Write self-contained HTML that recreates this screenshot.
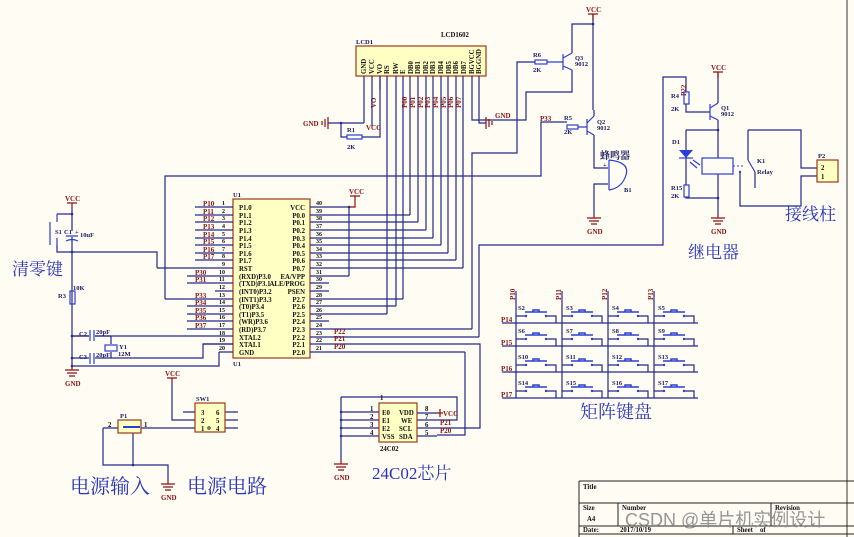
<!DOCTYPE html>
<html><head><meta charset="utf-8"><style>
html,body{margin:0;padding:0;background:#fffcf4;}
svg{display:block;font-family:"Liberation Serif","Noto Serif CJK SC",serif;}
.w{stroke:#23288a;stroke-width:1.2;fill:none}
.c{stroke:#2b3fd0;stroke-width:1.2;fill:none}
.r{fill:#8a1010;font-size:7px;font-weight:bold}
.b{fill:#1a1a60;font-size:6.5px;font-weight:bold}
.k{fill:#111;font-size:6.8px;font-weight:bold}
.big{fill:#2a36b8;font-family:"Liberation Serif","Noto Serif CJK SC",serif}
.g{stroke:#8a1010;stroke-width:1.2;fill:none}
</style></head><body>
<svg width="854" height="537" viewBox="0 0 854 537" xmlns="http://www.w3.org/2000/svg">
<rect width="854" height="537" fill="#fffcf4"/>
<line x1="847" y1="0" x2="847" y2="537" stroke="#333" stroke-width="1"/>

<rect x="233" y="199" width="77" height="159" fill="#ffffc4" stroke="#9a3a1a" stroke-width="1.2"/>
<text x="233" y="197" class="b">U1</text>
<text x="233" y="366" class="b">U1</text>
<g class="w">
<path d="M195 207H233M195 215H233M195 222H233M195 230H233M195 238H233M195 245H233M195 253H233M195 260H233
M157 268H233M187 276H233M187 283H233M215 291H233M165 299H233M187 306H233M187 314H233M187 321H233M187 329H233
M72 336H233M203 344H233M219 352H233"/>
<path d="M310 207H349M310 215H410M310 222H418M310 230H426M310 238H433M310 245H441M310 253H448M310 260H456M310 268H463
M310 276H349M310 283H329M310 291H329M310 299H403M310 306H396M310 314H387M310 321H329M310 329H472M310 337H479M310 344H477M310 352H465"/>
</g>
<g fill="#111" font-size="6" font-weight="bold">
<text x="222" y="205">1</text><text x="222" y="213">2</text><text x="222" y="220">3</text><text x="222" y="228">4</text><text x="222" y="236">5</text><text x="222" y="243">6</text><text x="222" y="251">7</text><text x="222" y="258">8</text><text x="222" y="266">9</text><text x="219" y="274">10</text><text x="219" y="281">11</text><text x="219" y="289">12</text><text x="219" y="297">13</text><text x="219" y="304">14</text><text x="219" y="312">15</text><text x="219" y="319">16</text><text x="219" y="327">17</text><text x="219" y="335">18</text><text x="219" y="342">19</text><text x="219" y="350">20</text>
<text x="316" y="205">40</text><text x="316" y="213">39</text><text x="316" y="220">38</text><text x="316" y="228">37</text><text x="316" y="236">36</text><text x="316" y="243">35</text><text x="316" y="251">34</text><text x="316" y="258">33</text><text x="316" y="266">32</text><text x="316" y="274">31</text><text x="316" y="281">30</text><text x="316" y="289">29</text><text x="316" y="297">28</text><text x="316" y="304">27</text><text x="316" y="312">26</text><text x="316" y="319">25</text><text x="316" y="327">24</text><text x="316" y="335">23</text><text x="316" y="342">22</text><text x="316" y="350">21</text>
</g>
<g class="k">
<text x="239" y="210">P1.0</text><text x="239" y="218">P1.1</text><text x="239" y="225">P1.2</text><text x="239" y="233">P1.3</text><text x="239" y="241">P1.4</text><text x="239" y="248">P1.5</text><text x="239" y="256">P1.6</text><text x="239" y="263">P1.7</text><text x="239" y="271">RST</text>
<text x="239" y="279">(RXD)P3.0</text><text x="239" y="286">(TXD)P3.1</text><text x="239" y="294">(INT0)P3.2</text><text x="239" y="302">(INT1)P3.3</text><text x="239" y="309">(T0)P3.4</text><text x="239" y="317">(T1)P3.5</text><text x="239" y="324">(WR)P3.6</text><text x="239" y="332">(RD)P3.7</text><text x="239" y="340">XTAL2</text><text x="239" y="347">XTAL1</text><text x="239" y="355">GND</text>
</g>
<g class="k" text-anchor="end">
<text x="305" y="210">VCC</text><text x="305" y="218">P0.0</text><text x="305" y="225">P0.1</text><text x="305" y="233">P0.2</text><text x="305" y="241">P0.3</text><text x="305" y="248">P0.4</text><text x="305" y="256">P0.5</text><text x="305" y="263">P0.6</text><text x="305" y="271">P0.7</text>
<text x="305" y="279">EA/VPP</text><text x="305" y="286">ALE/PROG</text><text x="305" y="294">PSEN</text><text x="305" y="302">P2.7</text><text x="305" y="309">P2.6</text><text x="305" y="317">P2.5</text><text x="305" y="324">P2.4</text><text x="305" y="332">P2.3</text><text x="305" y="340">P2.2</text><text x="305" y="347">P2.1</text><text x="305" y="355">P2.0</text>
</g>
<g class="r">
<text x="203" y="206">P10</text><text x="203" y="214">P11</text><text x="203" y="221">P12</text><text x="203" y="229">P13</text><text x="203" y="237">P14</text><text x="203" y="244">P15</text><text x="203" y="252">P16</text><text x="203" y="259">P17</text>
<text x="195" y="275">P30</text><text x="195" y="282">P31</text><text x="195" y="298">P33</text><text x="195" y="305">P34</text><text x="195" y="313">P35</text><text x="195" y="320">P36</text><text x="195" y="328">P37</text>
<text x="334" y="334">P22</text><text x="334" y="341">P21</text><text x="334" y="349">P20</text>
</g>
<path class="w" d="M349 207V276"/><circle cx="349" cy="207" r="1.3" fill="#23288a"/>
<path class="g" d="M349 207H355V196M350 196H360"/><text x="349" y="194" class="r" font-size="6.5">VCC</text>

<g class="w">
<path d="M387 90V314M396 90V306M403 90V299M410 90V215M418 90V222M426 90V230M433 90V238M441 90V245M448 90V253M456 90V260M463 90V268"/>
<path d="M472 90V120H526V92H572V70"/>
<path d="M472 329V153H517V62H535"/>
<path d="M479 337V245H663V77H686V92"/>
<path d="M477 344H480V428H437"/>
<path d="M465 352V435H437"/>
<path d="M165 299V176H541V122H567"/>
<path d="M479 90V123H486"/>
</g>

<rect x="356" y="46" width="130" height="30" fill="#ffffc4" stroke="#9a3a1a" stroke-width="1.2"/>
<text x="356" y="44" class="b">LCD1</text>
<text x="441" y="37" class="k">LCD1602</text>
<g class="k" font-size="5.5">
<text transform="translate(366,74) rotate(-90)">GND</text><text transform="translate(374,74) rotate(-90)">VCC</text><text transform="translate(382,74) rotate(-90)">VO</text><text transform="translate(389,74) rotate(-90)">RS</text><text transform="translate(398,74) rotate(-90)">RW</text><text transform="translate(405,74) rotate(-90)">E</text><text transform="translate(413,74) rotate(-90)">DB0</text><text transform="translate(420,74) rotate(-90)">DB1</text><text transform="translate(428,74) rotate(-90)">DB2</text><text transform="translate(435,74) rotate(-90)">DB3</text><text transform="translate(443,74) rotate(-90)">DB4</text><text transform="translate(451,74) rotate(-90)">DB5</text><text transform="translate(458,74) rotate(-90)">DB6</text><text transform="translate(466,74) rotate(-90)">DB7</text><text transform="translate(474,74) rotate(-90)">BGVCC</text><text transform="translate(481,74) rotate(-90)">BGGND</text>
</g>
<g class="w"><path d="M364 76V123M372 76V90M380 76V90M387 76V90M396 76V90M403 76V90M410 76V90M418 76V90M426 76V90M433 76V90M441 76V90M448 76V90M456 76V90M463 76V90M472 76V90M479 76V90"/></g>
<g class="r" font-size="6">
<text transform="translate(407,108) rotate(-90)">P00</text><text transform="translate(415,108) rotate(-90)">P01</text><text transform="translate(423,108) rotate(-90)">P02</text><text transform="translate(430,108) rotate(-90)">P03</text><text transform="translate(438,108) rotate(-90)">P04</text><text transform="translate(446,108) rotate(-90)">P05</text><text transform="translate(453,108) rotate(-90)">P06</text><text transform="translate(461,108) rotate(-90)">P07</text>
<text transform="translate(376,108) rotate(-90)">VO</text>
</g>
<g class="w"><path d="M328 123H364M341 123V137H347M362 137H380V76M372 90V126"/></g>
<circle cx="341" cy="123" r="1.3" fill="#23288a"/>
<rect x="347" y="135" width="15" height="4" fill="#fffcf4" class="c"/>
<text x="347" y="132" class="b">R1</text><text x="347" y="149" class="b">2K</text>
<path class="g" d="M328 117V129M325 119V127M322 121V125"/>
<text x="303" y="126" class="r" font-size="6.5">GND</text>
<text x="366" y="130" class="r" font-size="6.5">VCC</text>
<path class="g" d="M486 117V129M489 119V127M492 121V125"/>
<text x="495" y="118" class="r" font-size="6.5">GND</text>

<g class="w"><path d="M572 53V24H593V110M593 14V24"/></g>
<path class="g" d="M593 14V20M588 14H598"/><text x="586" y="12" class="r" font-size="6.5">VCC</text>
<circle cx="593" cy="24" r="1.3" fill="#23288a"/>
<rect x="535" y="60" width="12" height="4" fill="#fffcf4" class="c"/>
<text x="533" y="57" class="b">R6</text><text x="533" y="72" class="b">2K</text>
<g class="c"><path d="M547 62H563M563 54V70M563 58L572 53M563 66L572 70"/></g>
<text x="575" y="60" class="b">Q3</text><text x="575" y="66" class="b" font-size="5">9012</text>
<rect x="567" y="125" width="11" height="4" fill="#fffcf4" class="c"/>
<text x="564" y="120" class="b">R5</text><text x="564" y="134" class="b">2K</text>
<text x="540" y="121" class="r">P33</text>
<g class="c"><path d="M578 127H587M587 119V135M587 123L594 116M587 131L594 135"/></g>
<g class="w"><path d="M594 116V110M594 135V168H608M608 184H594V215"/></g>
<text x="597" y="124" class="b">Q2</text><text x="597" y="130" class="b" font-size="5">9012</text>
<path class="c" d="M609 160V190M609 160Q630 162 626 175Q622 188 609 190"/>
<text x="600" y="159" font-size="10" font-weight="bold" fill="#1a1a60">蜂鸣器</text>
<text x="603" y="167" class="b">+</text><text x="624" y="192" class="b">B1</text>
<path class="g" d="M594 215V218M587 218H601M589 221H599M591 224H597"/>
<text x="587" y="234" class="r" font-size="6.5">GND</text>

<text transform="translate(686,96) rotate(-90)" class="r" font-size="6.5">P22</text>
<rect x="684" y="92" width="5" height="12" fill="#fffcf4" class="c"/>
<text x="671" y="98" class="b">R4</text><text x="671" y="111" class="b">2K</text>
<g class="w"><path d="M686 104V112H710M718 72V103M718 120V158M718 174V215M686 130H718M686 130V185M686 197V198H718M748 130H801V168H817M740 172V206H801V176H817M748 130V160M755 172V188"/></g>
<path class="g" d="M718 72V78M713 72H723"/><text x="711" y="70" class="r" font-size="6.5">VCC</text>
<g class="c"><path d="M710 104V120M710 108L718 103M710 116L718 120"/></g>
<text x="721" y="110" class="b">Q1</text><text x="721" y="116" class="b" font-size="5">9012</text>
<path d="M679 150H693L686 158Z" fill="#2b3fd0"/><path class="c" d="M679 158H693"/>
<path class="c" d="M690 162L697 168M693 160L700 165"/>
<text x="672" y="144" class="b">D1</text>
<rect x="684" y="185" width="5" height="12" fill="#fffcf4" class="c"/>
<text x="671" y="190" class="b">R15</text><text x="671" y="198" class="b">2K</text>
<circle cx="718" cy="130" r="1.3" fill="#23288a"/><circle cx="718" cy="198" r="1.3" fill="#23288a"/>
<rect x="702" y="158" width="31" height="16" fill="#fffcf4" class="c"/>
<path d="M733 166H745" stroke="#2b3fd0" stroke-dasharray="2,2" fill="none"/>
<path class="c" d="M748 160L755 172"/>
<circle cx="740" cy="172" r="1.2" fill="#2b3fd0"/>
<text x="757" y="163" class="b">K1</text><text x="757" y="174" class="b">Relay</text>
<path class="g" d="M718 215V218M711 218H725M713 221H723M715 224H721"/>
<text x="711" y="234" class="r" font-size="6.5">GND</text>
<rect x="817" y="160" width="21" height="22" fill="#ffffc4" stroke="#9a3a1a" stroke-width="1.2"/>
<text x="818" y="158" class="b">P2</text><text x="821" y="170" class="k">2</text><text x="821" y="179" class="k">1</text>
<text x="688" y="258" font-size="17" class="big">继电器</text>
<text x="785" y="220" font-size="17" class="big">接线柱</text>

<path class="g" d="M72 203V208M67 203H77"/><text x="65" y="201" class="r" font-size="6.5">VCC</text>
<g class="w"><path d="M72 208V366M57 214H72M57 245V252H157V268M72 336H111M72 358H111M111 358H203V344H233M72 366H219V352"/></g>
<circle cx="72" cy="214" r="1.3" fill="#23288a"/><circle cx="72" cy="252" r="1.3" fill="#23288a"/><circle cx="72" cy="336" r="1.3" fill="#23288a"/><circle cx="72" cy="358" r="1.3" fill="#23288a"/><circle cx="72" cy="366" r="1.3" fill="#23288a"/>
<path class="c" d="M57 214V222M57 245V238M50 222V245"/>
<text x="55" y="234" class="b">S1</text>
<rect x="66" y="231" width="12" height="6" fill="#fffcf4"/>
<path class="c" d="M66 236H78M66 241Q72 238 78 241"/>
<text x="64" y="234" class="b">C1</text><text x="75" y="234" class="b">+</text><text x="80" y="237" class="b">10uF</text>
<text x="12" y="275" font-size="17" class="big">清零键</text>
<rect x="70" y="291" width="5" height="13" fill="#fffcf4" class="c"/>
<text x="73" y="290" class="b">10K</text><text x="58" y="298" class="b">R3</text>
<rect x="89" y="330" width="6" height="34" fill="#fffcf4"/>
<path class="c" d="M90 330V341M94 330V341M90 353V364M94 353V364"/>
<text x="79" y="336" class="b">C2</text><text x="96" y="334" class="b">20pF</text>
<text x="79" y="359" class="b">C3</text><text x="96" y="357" class="b">20pF</text>
<path class="w" d="M111 336V344M111 352V358"/>
<rect x="105" y="345" width="12" height="6" fill="#fffcf4" class="c"/>
<text x="119" y="349" class="b">Y1</text><text x="118" y="356" class="b">12M</text>
<path class="g" d="M72 366V370M65 370H79M67 373H77M69 376H75"/>
<text x="65" y="386" class="r" font-size="6.5">GND</text>

<path class="g" d="M172 378V383M167 378H177"/><text x="165" y="376" class="r" font-size="6.5">VCC</text>
<g class="w"><path d="M172 383V420H195M141 428H195M103 428H118M103 428V465H168V480M133 433V465M183 412H195M183 420H195M225 412H238M225 420H238M225 428H238"/></g>
<circle cx="133" cy="465" r="1.3" fill="#23288a"/>
<rect x="118" y="420" width="23" height="13" fill="#ffffc4" stroke="#9a3a1a" stroke-width="1.2"/>
<path d="M123 427H140" stroke="#2b3fd0" stroke-width="2"/>
<text x="120" y="418" class="b">P1</text><text x="108" y="427" class="k">2</text><text x="144" y="427" class="k">1</text>
<rect x="195" y="403" width="30" height="29" fill="#ffffc4" stroke="#9a3a1a" stroke-width="1.2"/>
<text x="196" y="401" class="b">SW1</text>
<g class="k"><text x="201" y="415">3</text><text x="201" y="423">2</text><text x="201" y="431">1</text><text x="216" y="415">6</text><text x="216" y="423">5</text><text x="216" y="431">4</text></g>
<circle cx="209" cy="428" r="1.2" fill="none" stroke="#111" stroke-width="0.8"/>
<path class="g" d="M168 480V484M161 484H175M163 487H173M165 490H171"/>
<text x="161" y="500" class="r" font-size="6.5">GND</text>
<text x="70" y="493" font-size="20" class="big">电源输入</text>
<text x="187" y="493" font-size="20" class="big">电源电路</text>

<g class="w"><path d="M341 397H457V420H437M341 397V460M341 412H379M341 420H379M341 428H379M341 436H379M417 413H437M417 420H437M417 428H437M417 436H437"/></g>
<circle cx="341" cy="412" r="1.2" fill="#23288a"/><circle cx="341" cy="420" r="1.2" fill="#23288a"/><circle cx="341" cy="428" r="1.2" fill="#23288a"/><circle cx="341" cy="436" r="1.2" fill="#23288a"/>
<path class="g" d="M437 413H443M440 409V417"/><text x="443" y="416" class="r" font-size="6.5">VCC</text>
<rect x="379" y="403" width="38" height="39" fill="#ffffc4" stroke="#9a3a1a" stroke-width="1.2"/>
<g class="k"><text x="382" y="415">E0</text><text x="382" y="423">E1</text><text x="382" y="431">E2</text><text x="382" y="439">VSS</text>
<text x="399" y="415">VDD</text><text x="401" y="423">WE</text><text x="399" y="431">SCL</text><text x="399" y="439">SDA</text>
<text x="370" y="411">1</text><text x="370" y="419">2</text><text x="370" y="427">3</text><text x="370" y="435">4</text>
<text x="425" y="411">8</text><text x="425" y="419">7</text><text x="425" y="427">6</text><text x="425" y="435">5</text>
<text x="380" y="400">1</text><text x="380" y="451">24C02</text></g>
<text x="440" y="425" class="r">P21</text><text x="440" y="433" class="r">P20</text>
<path class="g" d="M341 460V464M334 464H348M336 467H346M338 470H344"/>
<text x="334" y="480" class="r" font-size="6.5">GND</text>
<text x="372" y="479" font-size="17" class="big">24C02芯片</text>

<g class="w">
<path d="M516 291V398M562 291V398M608 291V398M654 291V398"/>
<path d="M502 323H698M502 346H698M502 372H698M502 398H698"/>
</g>
<g class="r" font-size="6.5">
<text transform="translate(515,300) rotate(-90)">P10</text><text transform="translate(561,300) rotate(-90)">P11</text><text transform="translate(607,300) rotate(-90)">P12</text><text transform="translate(653,300) rotate(-90)">P13</text>
<text x="501" y="322">P14</text><text x="501" y="345">P15</text><text x="501" y="371">P16</text><text x="501" y="397">P17</text>
</g>
<defs>
<g id="sw">
<path d="M0 0H10M30 0H40V7" stroke="#23288a" stroke-width="1.2" fill="none"/>
<path d="M9 -4H31M17 -4V-6H23V-4" stroke="#2b3fd0" stroke-width="1.5" fill="none"/>
<circle cx="10" cy="0" r="1.2" fill="#2b3fd0"/><circle cx="30" cy="0" r="1.2" fill="#2b3fd0"/>
</g>
</defs>
<use href="#sw" x="516" y="316"/><use href="#sw" x="562" y="316"/><use href="#sw" x="608" y="316"/><use href="#sw" x="654" y="316"/>
<use href="#sw" x="516" y="339"/><use href="#sw" x="562" y="339"/><use href="#sw" x="608" y="339"/><use href="#sw" x="654" y="339"/>
<use href="#sw" x="516" y="365"/><use href="#sw" x="562" y="365"/><use href="#sw" x="608" y="365"/><use href="#sw" x="654" y="365"/>
<use href="#sw" x="516" y="391"/><use href="#sw" x="562" y="391"/><use href="#sw" x="608" y="391"/><use href="#sw" x="654" y="391"/>
<g class="b">
<text x="518" y="310">S2</text><text x="566" y="310">S3</text><text x="612" y="310">S4</text><text x="658" y="310">S5</text>
<text x="518" y="333">S6</text><text x="566" y="333">S7</text><text x="612" y="333">S8</text><text x="658" y="333">S9</text>
<text x="518" y="359">S10</text><text x="566" y="359">S11</text><text x="612" y="359">S12</text><text x="658" y="359">S13</text>
<text x="518" y="385">S14</text><text x="566" y="385">S15</text><text x="612" y="385">S16</text><text x="658" y="385">S17</text>
</g>
<text x="580" y="418" font-size="18" class="big">矩阵键盘</text>

<g stroke="#222" stroke-width="1" fill="none">
<path d="M579 481H854M579 481V537M579 503H854M579 526H854M579 534H854M618 503V526M771 503V526M733 526V534"/>
</g>
<g class="k" font-size="6">
<text x="583" y="489">Title</text><text x="583" y="510">Size</text><text x="587" y="521">A4</text><text x="622" y="510">Number</text><text x="775" y="510">Revision</text>
<text x="583" y="532">Date:</text><text x="620" y="532">2017/10/19</text><text x="737" y="532">Sheet</text><text x="760" y="532">of</text>
</g>
<text x="625" y="526" font-size="18" fill="#8a8a8a" fill-opacity="0.9" font-family="Liberation Sans,Noto Sans CJK SC,sans-serif">CSDN @单片机实例设计</text>
</svg>
</body></html>
